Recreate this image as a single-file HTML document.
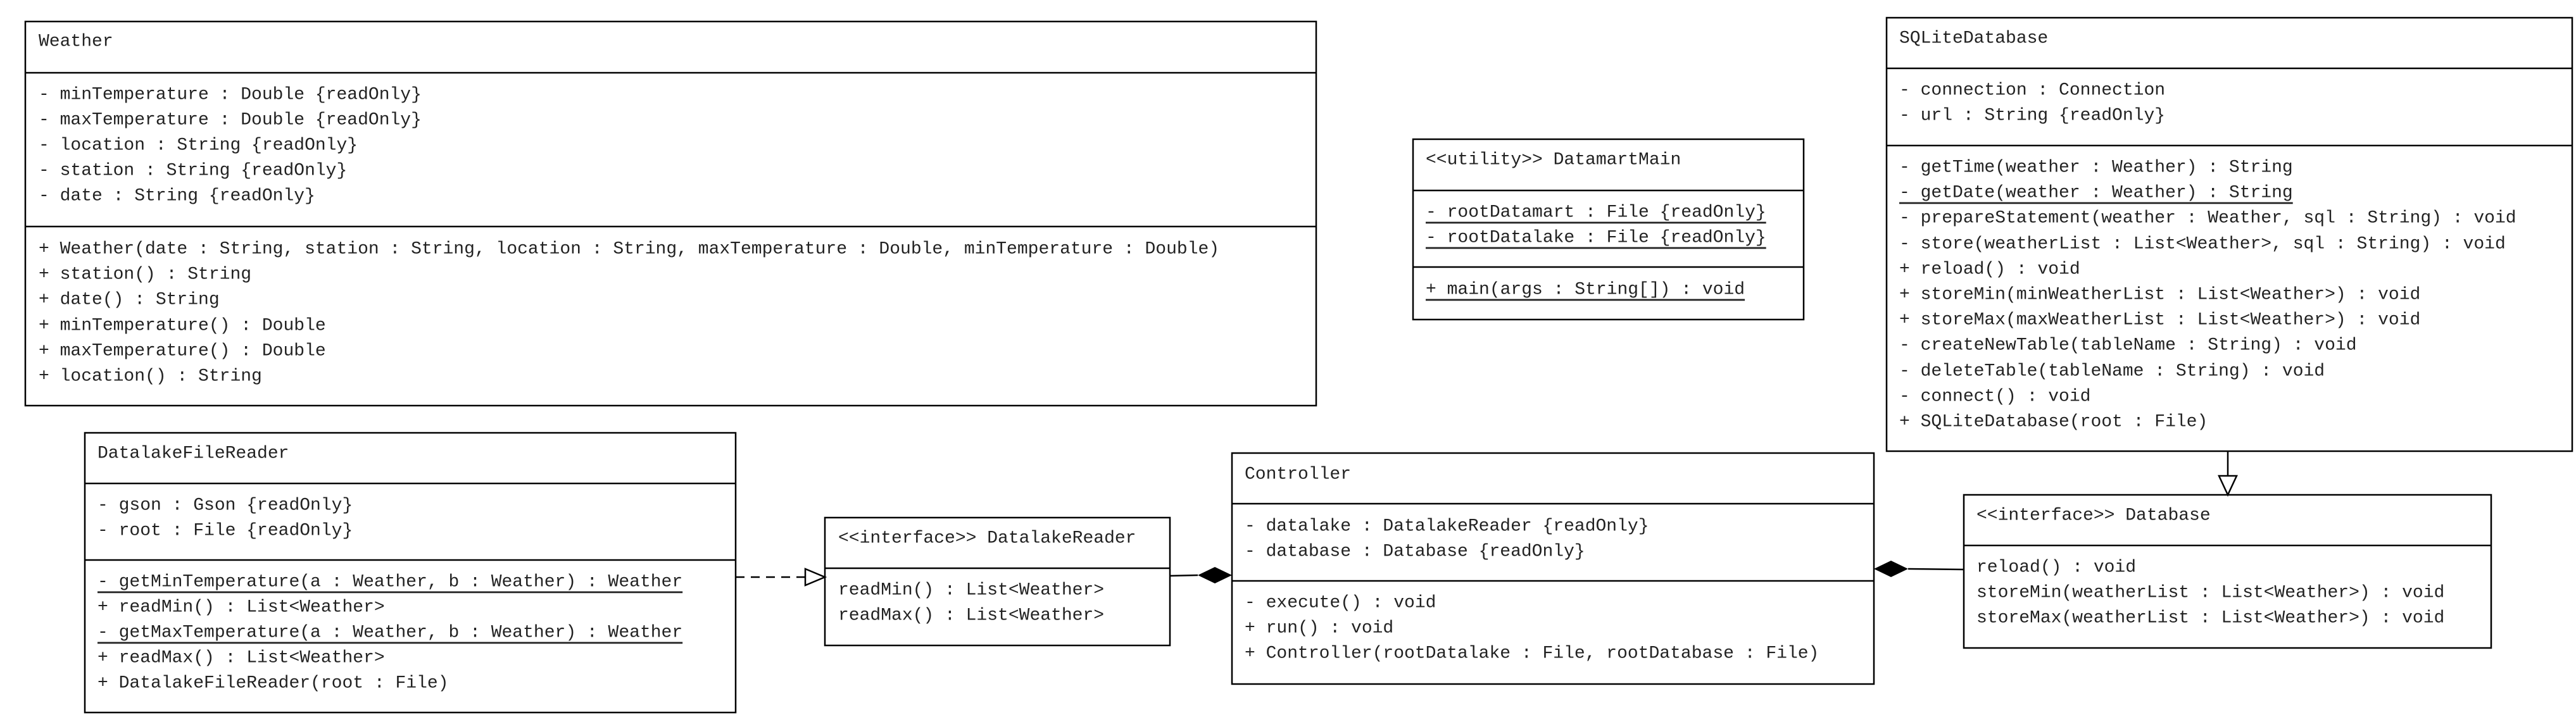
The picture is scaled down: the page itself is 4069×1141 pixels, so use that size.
<!DOCTYPE html>
<html><head><meta charset="utf-8"><style>
html,body{margin:0;padding:0;background:#fff;}
svg{display:block;}
text{font-family:"Liberation Mono",monospace;font-size:28px;fill:#222;dominant-baseline:central;}
.b{fill:#fff;stroke:#000;stroke-width:2.5;}
.l{stroke:#000;stroke-width:2.5;}
</style></head><body>
<svg width="4069" height="1141" xmlns="http://www.w3.org/2000/svg">
<!-- Weather -->
<rect class="b" x="40" y="34" width="2039" height="607"/>
<line class="l" x1="40" y1="115" x2="2079" y2="115"/>
<line class="l" x1="40" y1="358" x2="2079" y2="358"/>
<text x="61" y="66">Weather</text>
<text x="61" y="150">- minTemperature : Double {readOnly}</text>
<text x="61" y="190">- maxTemperature : Double {readOnly}</text>
<text x="61" y="230">- location : String {readOnly}</text>
<text x="61" y="270">- station : String {readOnly}</text>
<text x="61" y="310">- date : String {readOnly}</text>
<text x="61" y="394">+ Weather(date : String, station : String, location : String, maxTemperature : Double, minTemperature : Double)</text>
<text x="61" y="434">+ station() : String</text>
<text x="61" y="474">+ date() : String</text>
<text x="61" y="515">+ minTemperature() : Double</text>
<text x="61" y="555">+ maxTemperature() : Double</text>
<text x="61" y="595">+ location() : String</text>

<!-- DatamartMain -->
<rect class="b" x="2232" y="220" width="617" height="285"/>
<line class="l" x1="2232" y1="301" x2="2849" y2="301"/>
<line class="l" x1="2232" y1="422" x2="2849" y2="422"/>
<text x="2252" y="253">&lt;&lt;utility&gt;&gt; DatamartMain</text>
<text x="2252" y="336" text-decoration="underline">- rootDatamart : File {readOnly}</text>
<text x="2252" y="376" text-decoration="underline">- rootDatalake : File {readOnly}</text>
<text x="2252" y="458" text-decoration="underline">+ main(args : String[]) : void</text>

<!-- SQLiteDatabase -->
<rect class="b" x="2980" y="28" width="1083" height="685"/>
<line class="l" x1="2980" y1="108" x2="4063" y2="108"/>
<line class="l" x1="2980" y1="230" x2="4063" y2="230"/>
<text x="3000" y="61">SQLiteDatabase</text>
<text x="3000" y="143">- connection : Connection</text>
<text x="3000" y="183">- url : String {readOnly}</text>
<text x="3000" y="265">- getTime(weather : Weather) : String</text>
<text x="3000" y="305" text-decoration="underline">- getDate(weather : Weather) : String</text>
<text x="3000" y="345">- prepareStatement(weather : Weather, sql : String) : void</text>
<text x="3000" y="386">- store(weatherList : List&lt;Weather&gt;, sql : String) : void</text>
<text x="3000" y="426">+ reload() : void</text>
<text x="3000" y="466">+ storeMin(minWeatherList : List&lt;Weather&gt;) : void</text>
<text x="3000" y="506">+ storeMax(maxWeatherList : List&lt;Weather&gt;) : void</text>
<text x="3000" y="546">- createNewTable(tableName : String) : void</text>
<text x="3000" y="587">- deleteTable(tableName : String) : void</text>
<text x="3000" y="627">- connect() : void</text>
<text x="3000" y="667">+ SQLiteDatabase(root : File)</text>

<!-- DatalakeFileReader -->
<rect class="b" x="134" y="684" width="1028" height="442"/>
<line class="l" x1="134" y1="764" x2="1162" y2="764"/>
<line class="l" x1="134" y1="885" x2="1162" y2="885"/>
<text x="154" y="717">DatalakeFileReader</text>
<text x="154" y="799">- gson : Gson {readOnly}</text>
<text x="154" y="839">- root : File {readOnly}</text>
<text x="154" y="920" text-decoration="underline">- getMinTemperature(a : Weather, b : Weather) : Weather</text>
<text x="154" y="960">+ readMin() : List&lt;Weather&gt;</text>
<text x="154" y="1000" text-decoration="underline">- getMaxTemperature(a : Weather, b : Weather) : Weather</text>
<text x="154" y="1040">+ readMax() : List&lt;Weather&gt;</text>
<text x="154" y="1080">+ DatalakeFileReader(root : File)</text>

<!-- DatalakeReader -->
<rect class="b" x="1303" y="818" width="545" height="202"/>
<line class="l" x1="1303" y1="898" x2="1848" y2="898"/>
<text x="1324" y="851">&lt;&lt;interface&gt;&gt; DatalakeReader</text>
<text x="1324" y="933">readMin() : List&lt;Weather&gt;</text>
<text x="1324" y="973">readMax() : List&lt;Weather&gt;</text>

<!-- realization -->
<line class="l" x1="1162" y1="912" x2="1272" y2="912" stroke-dasharray="14,10"/>
<polygon points="1272,899 1303,912 1272,925" fill="#fff" stroke="#000" stroke-width="2.5"/>

<!-- Controller -->
<rect class="b" x="1946" y="716" width="1014" height="365"/>
<line class="l" x1="1946" y1="796" x2="2960" y2="796"/>
<line class="l" x1="1946" y1="918" x2="2960" y2="918"/>
<text x="1966" y="750">Controller</text>
<text x="1966" y="832">- datalake : DatalakeReader {readOnly}</text>
<text x="1966" y="872">- database : Database {readOnly}</text>
<text x="1966" y="953">- execute() : void</text>
<text x="1966" y="993">+ run() : void</text>
<text x="1966" y="1033">+ Controller(rootDatalake : File, rootDatabase : File)</text>

<!-- composition Controller -> DatalakeReader -->
<line class="l" x1="1848" y1="910" x2="1892" y2="909"/>
<polygon points="1892,909 1919,896 1946,909 1919,922" fill="#000"/>

<!-- Database -->
<rect class="b" x="3102" y="782" width="833" height="242"/>
<line class="l" x1="3102" y1="862" x2="3935" y2="862"/>
<text x="3122" y="815">&lt;&lt;interface&gt;&gt; Database</text>
<text x="3122" y="897">reload() : void</text>
<text x="3122" y="937">storeMin(weatherList : List&lt;Weather&gt;) : void</text>
<text x="3122" y="977">storeMax(weatherList : List&lt;Weather&gt;) : void</text>

<!-- composition Controller -> Database -->
<line class="l" x1="3014" y1="899" x2="3102" y2="900"/>
<polygon points="2960,899 2987,886 3014,899 2987,912" fill="#000"/>

<!-- generalization SQLite -> Database -->
<line class="l" x1="3519" y1="713" x2="3519" y2="752"/>
<polygon points="3505,752 3533,752 3519,782" fill="#fff" stroke="#000" stroke-width="2.5"/>
</svg>
</body></html>
